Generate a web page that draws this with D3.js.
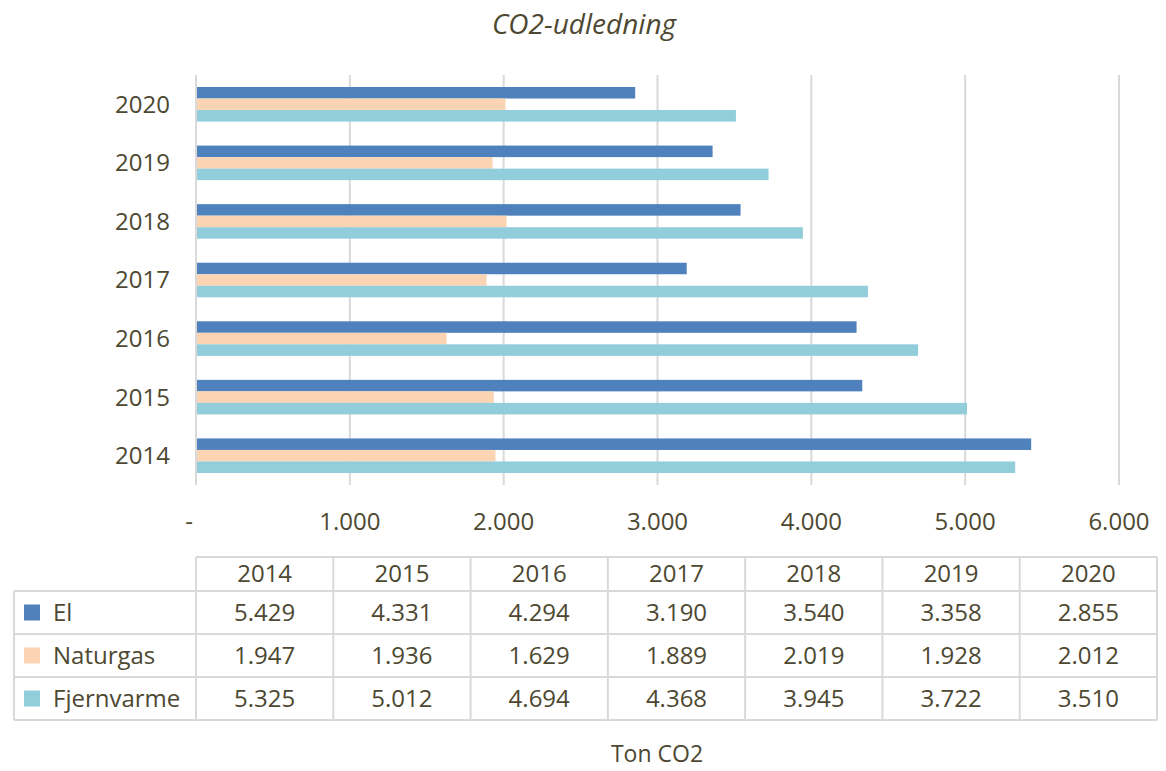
<!doctype html>
<html>
<head>
<meta charset="utf-8">
<style>
  body { margin: 0; background: #fff; }
  text { font-family: "Open Sans", Lato, sans-serif; fill: #4d4831; }
</style>
<script src="https://d3js.org/d3.v7.min.js"></script>
</head>
<body>
<svg width="1166" height="771"></svg>
<script>
// data
var years = ["2014", "2015", "2016", "2017", "2018", "2019", "2020"];
var seriesNames = ["El", "Naturgas", "Fjernvarme"];
var seriesColors = ["#4f81bd", "#fbd4b4", "#92cddc"];
var elValues = [5429, 4331, 4294, 3190, 3540, 3358, 2855];
var naturgasValues = [1947, 1936, 1629, 1889, 2019, 1928, 2012];
var fjernvarmeValues = [5325, 5012, 4694, 4368, 3945, 3722, 3510];
var xTicks = [0, 1000, 2000, 3000, 4000, 5000, 6000];

var allValues = [elValues, naturgasValues, fjernvarmeValues];

var dk = d3.formatLocale({decimal: ",", thousands: ".", grouping: [3], currency: ["", " kr"]});
var fmt = dk.format(",d");

var svg = d3.select("svg");
var plotLeft = 196, plotRight = 1119, plotTop = 75, plotBottom = 485;
var fs = "24px";

var x = d3.scaleLinear().domain([0, 6000]).range([plotLeft, plotRight]);
var y = d3.scaleBand().domain(years.slice().reverse()).range([plotTop, plotBottom]).paddingInner(0.41).paddingOuter(0.205);
var ys = d3.scaleBand().domain(seriesNames).range([0, y.bandwidth()]);

// title
svg.append("text")
   .attr("x", 584).attr("y", 34)
   .attr("text-anchor", "middle")
   .attr("font-size", "28px")
   .attr("font-style", "italic")
   .text("CO2-udledning");

// gridlines
svg.append("g").selectAll("line")
   .data(xTicks)
   .enter().append("line")
   .attr("x1", function(d) { return x(d); })
   .attr("x2", function(d) { return x(d); })
   .attr("y1", plotTop).attr("y2", plotBottom)
   .attr("stroke", "#d9d9d9")
   .attr("stroke-width", 2);

// bars
var groups = svg.append("g").selectAll("g")
   .data(years)
   .enter().append("g")
   .attr("transform", function(d) { return "translate(0," + y(d) + ")"; });

groups.selectAll("rect")
   .data(function(d, i) {
       return seriesNames.map(function(s, j) { return {s: s, v: allValues[j][i], c: seriesColors[j]}; });
   })
   .enter().append("rect")
   .attr("x", x(0) + 1)
   .attr("y", function(d) { return ys(d.s); })
   .attr("width", function(d) { return x(d.v) - x(0) - 1; })
   .attr("height", ys.bandwidth())
   .attr("fill", function(d) { return d.c; });

// y labels
svg.append("g").selectAll("text")
   .data(years)
   .enter().append("text")
   .attr("x", 170)
   .attr("y", function(d) { return y(d) + y.bandwidth() / 2; })
   .attr("dy", "0.35em")
   .attr("text-anchor", "end")
   .attr("font-size", fs)
   .text(function(d) { return d; });

// x tick labels
svg.append("g").selectAll("text")
   .data(xTicks)
   .enter().append("text")
   .attr("x", function(d) { return d === 0 ? x(d) - 7 : x(d); })
   .attr("y", 530)
   .attr("text-anchor", "middle")
   .attr("font-size", fs)
   .text(function(d) { return d === 0 ? "-" : fmt(d); });

// data table
var tLeft = 14, tRight = 1157;
var colX = d3.scaleBand().domain(years).range([plotLeft, tRight]);
var rowTops = [557, 591, 634, 677, 720];
var tbl = svg.append("g").attr("stroke", "#d9d9d9").attr("stroke-width", 2);

// horizontal lines
tbl.append("line").attr("x1", plotLeft).attr("x2", tRight).attr("y1", rowTops[0]).attr("y2", rowTops[0]);
rowTops.slice(1).forEach(function(ry) {
    tbl.append("line").attr("x1", tLeft).attr("x2", tRight).attr("y1", ry).attr("y2", ry);
});
// vertical lines
tbl.append("line").attr("x1", tLeft).attr("x2", tLeft).attr("y1", rowTops[1]).attr("y2", rowTops[4]);
years.forEach(function(yr) {
    tbl.append("line").attr("x1", colX(yr)).attr("x2", colX(yr)).attr("y1", rowTops[0]).attr("y2", rowTops[4]);
});
tbl.append("line").attr("x1", tRight).attr("x2", tRight).attr("y1", rowTops[0]).attr("y2", rowTops[4]);

// header
svg.append("g").selectAll("text")
   .data(years)
   .enter().append("text")
   .attr("x", function(d) { return colX(d) + colX.bandwidth() / 2; })
   .attr("y", (rowTops[0] + rowTops[1]) / 2)
   .attr("dy", "0.35em")
   .attr("text-anchor", "middle")
   .attr("font-size", fs)
   .text(function(d) { return d; });

// rows
seriesNames.forEach(function(s, j) {
    var cy = (rowTops[j + 1] + rowTops[j + 2]) / 2;
    svg.append("rect")
       .attr("x", 24).attr("y", cy - 8)
       .attr("width", 16).attr("height", 16)
       .attr("fill", seriesColors[j]);
    svg.append("text")
       .attr("x", 53).attr("y", cy)
       .attr("dy", "0.35em")
       .attr("font-size", fs)
       .text(s);
    svg.append("g").selectAll("text")
       .data(allValues[j])
       .enter().append("text")
       .attr("x", function(d, i) { return colX(years[i]) + colX.bandwidth() / 2; })
       .attr("y", cy)
       .attr("dy", "0.35em")
       .attr("text-anchor", "middle")
       .attr("font-size", fs)
       .text(function(d) { return fmt(d); });
});

// axis title
svg.append("text")
   .attr("x", 657).attr("y", 762)
   .attr("text-anchor", "middle")
   .attr("font-size", "23px")
   .text("Ton CO2");
</script>
</body>
</html>
